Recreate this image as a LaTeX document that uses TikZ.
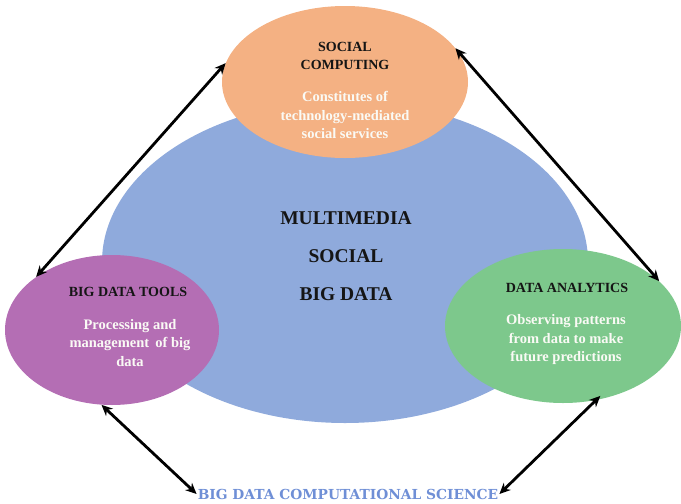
\documentclass[tikz,border=0pt]{standalone}
\usepackage{fontspec}
\setmainfont{Liberation Serif}
\newfontfamily\titlefont{DejaVu Serif}
\usetikzlibrary{shapes.geometric,arrows.meta}
\definecolor{cblue}{HTML}{8FAADC}
\definecolor{corange}{HTML}{F4B183}
\definecolor{cpurple}{HTML}{B46EB4}
\definecolor{cgreen}{HTML}{7DC88C}
\definecolor{ctitle}{HTML}{6F8FD6}
\definecolor{cwhite}{HTML}{FAFAF5}
\definecolor{cdark}{HTML}{151515}
\tikzset{
  blob/.style={ellipse, inner sep=0pt, draw=none},
  head/.style={align=center, text=cdark, font=\bfseries\fontsize{14}{18}\selectfont, inner sep=0pt},
  desc/.style={align=center, text=cwhite, font=\bfseries\fontsize{14.5}{18.5}\selectfont, inner sep=0pt},
  link/.style={line width=2.8pt, black, {Stealth[length=11pt,width=10pt]}-{Stealth[length=11pt,width=10pt]}}
}
\begin{document}
\begin{tikzpicture}[x=1pt,y=-1pt]
\useasboundingbox (0,0) rectangle (681,504);
% ellipses
\node[blob, fill=cblue, minimum width=486pt, minimum height=322pt] (core) at (345,262) {};
\node[blob, fill=corange, minimum width=246pt, minimum height=152pt] (social) at (345,82) {};
\node[blob, fill=cpurple, minimum width=214pt, minimum height=150pt] (tools) at (112,330) {};
\node[blob, fill=cgreen, minimum width=236pt, minimum height=154pt] (analytics) at (563,326) {};
% texts
\node[align=center, text=cdark, font=\bfseries\fontsize{19.5}{38}\selectfont, inner sep=0pt] (coretext) at (346,256) {MULTIMEDIA\\SOCIAL\\BIG DATA};
\node[head] (socialhead) at (345,56) {SOCIAL\\COMPUTING};
\node[desc] (socialdesc) at (345,115) {Constitutes of\\technology-mediated\\social services};
\node[head] (toolshead) at (128,292) {BIG DATA TOOLS};
\node[desc] (toolsdesc) at (130,343) {Processing and\\management\, of big\\data};
\node[head] (analyticshead) at (567,288) {DATA ANALYTICS};
\node[desc] (analyticsdesc) at (566,340) {Observing patterns\\from data to make\\future predictions};
\node[text=ctitle, font=\titlefont\bfseries\fontsize{13.8}{16}\selectfont, inner sep=1pt] (title) at (348,494) {BIG DATA COMPUTATIONAL SCIENCE};
% connectors
\draw[link] (tools.145.5) -- (social.171);
\draw[link] (social.17.4) -- (analytics.25.9);
\draw[link] (tools.262.7) -- (title.west);
\draw[link, shorten <=-6pt] (analytics.294.5) -- (title.east);
\end{tikzpicture}
\end{document}
